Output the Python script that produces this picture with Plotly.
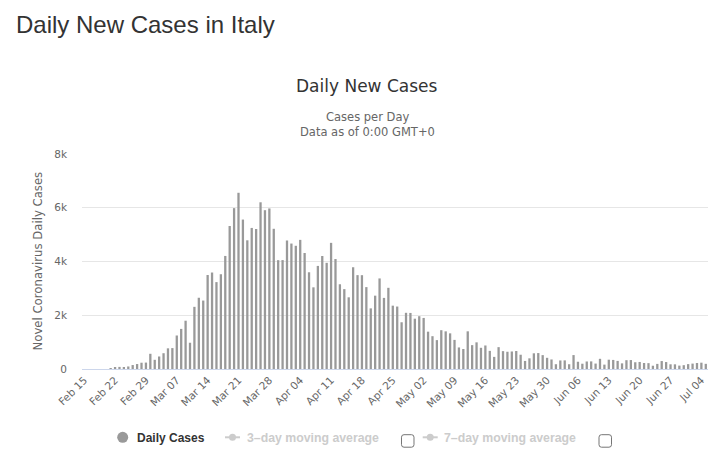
import pandas as pd
import plotly.graph_objects as go

# ---- data ----
dates = pd.date_range("2020-02-15", "2020-07-05", freq="D")
categories = [d.strftime("%b %d") for d in dates]

feb_cases = [0, 0, 0, 0, 0, 0, 17, 59, 78, 72, 94, 147, 185, 234, 239]
mar_cases = [566, 342, 466, 587, 769, 778, 1247, 1492, 1797, 977, 2313, 2651, 2547, 3497,
             3590, 3233, 3526, 4207, 5322, 5986, 6557, 5560, 4789, 5249, 5210, 6203, 5909,
             5974, 5217, 4050, 4053]
apr_cases = [4782, 4668, 4585, 4805, 4316, 3599, 3039, 3836, 4204, 3951, 4694, 4092, 3153,
             2972, 2667, 3786, 3493, 3491, 3047, 2256, 2729, 3370, 2646, 3021, 2357, 2324,
             1739, 2091, 2086, 1872]
may_cases = [1965, 1900, 1389, 1221, 1075, 1444, 1401, 1327, 1083, 802, 744, 1402, 888, 992,
             789, 875, 675, 451, 813, 665, 642, 652, 669, 531, 300, 397, 584, 593, 516, 416, 355]
jun_cases = [178, 318, 321, 177, 518, 270, 197, 280, 283, 202, 379, 163, 346, 338, 301, 210,
             328, 333, 251, 262, 224, 218, 122, 190, 296, 259, 175, 174, 126, 142]
jul_cases = [182, 201, 223, 235, 192]
daily_cases = feb_cases + mar_cases + apr_cases + may_cases + jun_cases + jul_cases

x_tick_labels = categories[::7]
y_tick_values = [0, 2000, 4000, 6000, 8000]
y_tick_labels = ["0", "2k", "4k", "6k", "8k"]

# ---- layout geometry ----
W, H = 723, 474
L, R, T, B = 82, 15, 154, 105
PW, PH = W - L - R, H - T - B


def px(x):
    return (x - L) / PW


def py(y):
    return (H - B - y) / PH


fig = go.Figure()
fig.add_trace(go.Bar(
    x=categories, y=daily_cases, marker_color="#999999", marker_line_width=0,
    name="Daily Cases", showlegend=False, hoverinfo="skip",
))

sans = "DejaVu Sans"
arial = "Liberation Sans, Arial, sans-serif"

annotations = [
    dict(text="Daily New Cases in Italy", x=px(13.5), y=py(25), xanchor="left", yanchor="middle",
         font=dict(family=arial, size=24, color="#333333")),
    dict(text="Daily New Cases", x=px(367), y=py(86), xanchor="center", yanchor="middle",
         font=dict(family=sans, size=17, color="#333333")),
    dict(text="Cases per Day", x=px(367), y=py(117), xanchor="center", yanchor="middle",
         font=dict(family=sans, size=11.5, color="#666666")),
    dict(text="Data as of 0:00 GMT+0", x=px(367), y=py(132), xanchor="center", yanchor="middle",
         font=dict(family=sans, size=11.5, color="#666666")),
    dict(text="Novel Coronavirus Daily Cases", x=px(37), y=py(261.5), xanchor="center",
         yanchor="middle", textangle=-90,
         font=dict(family=sans, size=11.7, color="#666666")),
    dict(text="<b>Daily Cases</b>", x=px(135), y=py(437.5), xanchor="left", yanchor="middle",
         font=dict(family=arial, size=12, color="#333333")),
    dict(text="<b>3–day moving average</b>", x=px(245), y=py(437.5), xanchor="left",
         yanchor="middle", font=dict(family=arial, size=12.3, color="#cccccc")),
    dict(text="<b>7–day moving average</b>", x=px(442), y=py(437.5), xanchor="left",
         yanchor="middle", font=dict(family=arial, size=12.3, color="#cccccc")),
]
for a in annotations:
    a.update(xref="paper", yref="paper", showarrow=False)

shapes = []
# legend marker: Daily Cases circle
r = 5.5
shapes.append(dict(type="circle", x0=px(122.7 - r), x1=px(122.7 + r), y0=py(437.3 + r),
                   y1=py(437.3 - r), fillcolor="#999999", line_width=0))
# hidden series markers (line + dot)
for cx in (232.5, 430.2):
    shapes.append(dict(type="line", x0=px(cx - 7.5), x1=px(cx + 7.5), y0=py(437.3),
                       y1=py(437.3), line=dict(color="#cccccc", width=2)))
    shapes.append(dict(type="circle", x0=px(cx - 3.5), x1=px(cx + 3.5), y0=py(437.3 + 3.5),
                       y1=py(437.3 - 3.5), fillcolor="#cccccc", line_width=0))


def rounded_box(x0, y0, x1, y1, rr):
    pts = [
        (x0 + rr, y0), (x1 - rr, y0), (x1, y0), (x1, y0 + rr), (x1, y1 - rr), (x1, y1),
        (x1 - rr, y1), (x0 + rr, y1), (x0, y1), (x0, y1 - rr), (x0, y0 + rr), (x0, y0),
        (x0 + rr, y0),
    ]
    f = lambda p: f"{px(p[0]):.5f},{py(p[1]):.5f}"
    d = (f"M{f(pts[0])} L{f(pts[1])} Q{f(pts[2])} {f(pts[3])} L{f(pts[4])} "
         f"Q{f(pts[5])} {f(pts[6])} L{f(pts[7])} Q{f(pts[8])} {f(pts[9])} "
         f"L{f(pts[10])} Q{f(pts[11])} {f(pts[12])} Z")
    return d


for bx in (401.5, 599.0):
    shapes.append(dict(type="path", path=rounded_box(bx, 434.7, bx + 12.5, 447.2, 2.5),
                       line=dict(color="#757575", width=1), fillcolor="white"))

for s in shapes:
    s.update(xref="paper", yref="paper", layer="above")

fig.update_layout(
    width=W, height=H,
    margin=dict(l=L, r=R, t=T, b=B, pad=0),
    paper_bgcolor="white", plot_bgcolor="white",
    bargap=0.48,
    showlegend=False,
    annotations=annotations,
    shapes=shapes,
    xaxis=dict(
        type="category", range=[-0.5, len(categories) - 0.5],
        tickmode="array", tickvals=x_tick_labels, ticktext=x_tick_labels,
        tickangle=-45, tickfont=dict(family=sans, size=10.5, color="#666666"),
        showgrid=False, showline=True, linecolor="#ccd6eb", linewidth=1,
        ticks="", zeroline=False, fixedrange=True,
    ),
    yaxis=dict(
        range=[0, 8000], tickmode="array", tickvals=y_tick_values, ticktext=y_tick_labels,
        tickfont=dict(family=sans, size=10.5, color="#666666"),
        showgrid=True, gridcolor="#e6e6e6", gridwidth=1, zeroline=False,
        ticks="", ticklabelstandoff=14, fixedrange=True,
    ),
)

fig.write_html(
    "out.html",
    config={"displayModeBar": False},
    post_script="document.body.style.margin='0px';document.body.style.overflow='hidden';",
)
